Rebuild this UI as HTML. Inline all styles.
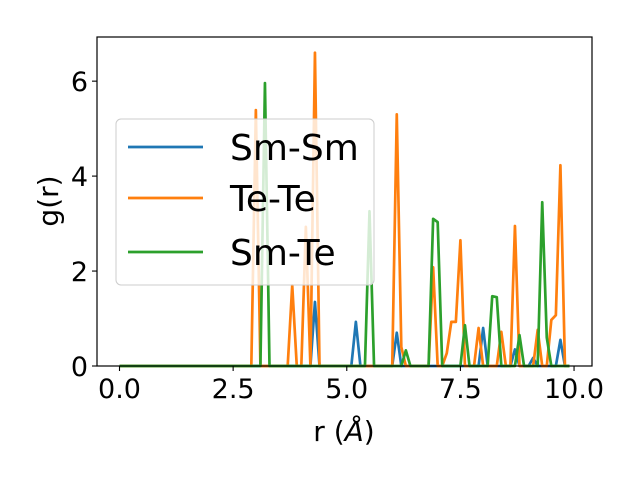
<!DOCTYPE html>
<html><head><meta charset="utf-8"><style>
body{margin:0;background:#fff}
svg{display:block;font-family:"DejaVu Sans","Liberation Sans",sans-serif}
</style></head><body>
<svg id="chart" width="640" height="480" xmlns="http://www.w3.org/2000/svg">
<rect width="640" height="480" fill="#fff"/>
<g id="series"></g>
<rect x="97" y="37" width="495" height="329" fill="none" stroke="#000" stroke-width="1.2"/>
<g id="axes"></g>
<text x="0" y="0" transform="translate(58,201) rotate(-90)" text-anchor="middle" font-size="28">g(r)</text>
<text x="344" y="441" text-anchor="middle" font-size="28">r (<tspan font-style="italic">Å</tspan>)</text>
<g>
<rect x="116" y="119" width="258" height="166" rx="5" fill="#fff" fill-opacity="0.8" stroke="#ccc" stroke-width="1"/>
<line x1="128" y1="147" x2="203" y2="147" stroke="#1f77b4" stroke-width="2.7"/>
<text x="230" y="160" font-size="36">Sm-Sm</text>
<line x1="128" y1="198" x2="203" y2="198" stroke="#ff7f0e" stroke-width="2.7"/>
<text x="230" y="211" font-size="36">Te-Te</text>
<line x1="128" y1="252" x2="203" y2="252" stroke="#2ca02c" stroke-width="2.7"/>
<text x="230" y="265" font-size="36">Sm-Te</text>
</g>
</svg>
<script>
const seriesNames = ["Sm-Sm","Te-Te","Sm-Te"];
const seriesColors = ["#1f77b4","#ff7f0e","#2ca02c"];
const smsmPeaks = [[43,1.35],[52,0.93],[61,0.7],[80,0.8],[87,0.35],[91,0.17],[97,0.55]];
const tetePeaks = [[30,5.39],[38,1.7],[41,2.93],[43,6.6],[61,5.3],[62,0.4],[69,2.08],[72,0.27],[73,0.93],[74,0.93],[75,2.65],[79,0.8],[84,0.72],[87,2.95],[92,0.76],[95,0.97],[96,1.07],[97,4.23]];
const smtePeaks = [[32,5.96],[55,3.26],[63,0.33],[69,3.1],[70,3.03],[76,0.86],[82,1.47],[83,1.45],[88,0.65],[93,3.45],[94,0.6]];
const xTicks = [0,2.5,5,7.5,10];
const xTickLabels = ["0.0","2.5","5.0","7.5","10.0"];
const yTicks = [0,2,4,6];
const nPoints = 100, dx = 0.1;
const xMin=-0.495, xMax=10.395, yMin=0, yMax=6.93;
const L=97,R=592,T=37,B=366;
const xs = v => L+(v-xMin)/(xMax-xMin)*(R-L);
const ys = v => B-(v-yMin)/(yMax-yMin)*(B-T);
const NS="http://www.w3.org/2000/svg";
function build(peaks){const a=new Array(nPoints).fill(0);peaks.forEach(p=>a[p[0]]=p[1]);return a;}
const allSeries=[build(smsmPeaks),build(tetePeaks),build(smtePeaks)];
const sg=document.getElementById('series');
allSeries.forEach((vals,k)=>{
  const p=document.createElementNS(NS,'polyline');
  p.setAttribute('points',vals.map((v,i)=>xs(i*dx).toFixed(2)+','+ys(v).toFixed(2)).join(' '));
  p.setAttribute('fill','none');p.setAttribute('stroke',seriesColors[k]);
  p.setAttribute('stroke-width','2.7');p.setAttribute('stroke-linejoin','round');
  
  
  sg.appendChild(p);
});
const ag=document.getElementById('axes');
xTicks.forEach((t,i)=>{
  const l=document.createElementNS(NS,'line');
  l.setAttribute('x1',xs(t));l.setAttribute('x2',xs(t));l.setAttribute('y1',B);l.setAttribute('y2',B+5);
  l.setAttribute('stroke','#000');l.setAttribute('stroke-width','1.1');
  
  
  ag.appendChild(l);
  const tx=document.createElementNS(NS,'text');
  tx.setAttribute('x',xs(t));tx.setAttribute('y',B+32);tx.setAttribute('text-anchor','middle');tx.setAttribute('font-size','27');
  tx.textContent=xTickLabels[i];
  
  
  ag.appendChild(tx);
});
yTicks.forEach(t=>{
  const l=document.createElementNS(NS,'line');
  l.setAttribute('x1',L-5);l.setAttribute('x2',L);l.setAttribute('y1',ys(t));l.setAttribute('y2',ys(t));
  l.setAttribute('stroke','#000');l.setAttribute('stroke-width','1.1');
  
  
  ag.appendChild(l);
  const tx=document.createElementNS(NS,'text');
  tx.setAttribute('x',L-9);tx.setAttribute('y',ys(t)+10);tx.setAttribute('text-anchor','end');tx.setAttribute('font-size','27');
  tx.textContent=String(t);
  
  
  ag.appendChild(tx);
});
</script>
</body></html>
